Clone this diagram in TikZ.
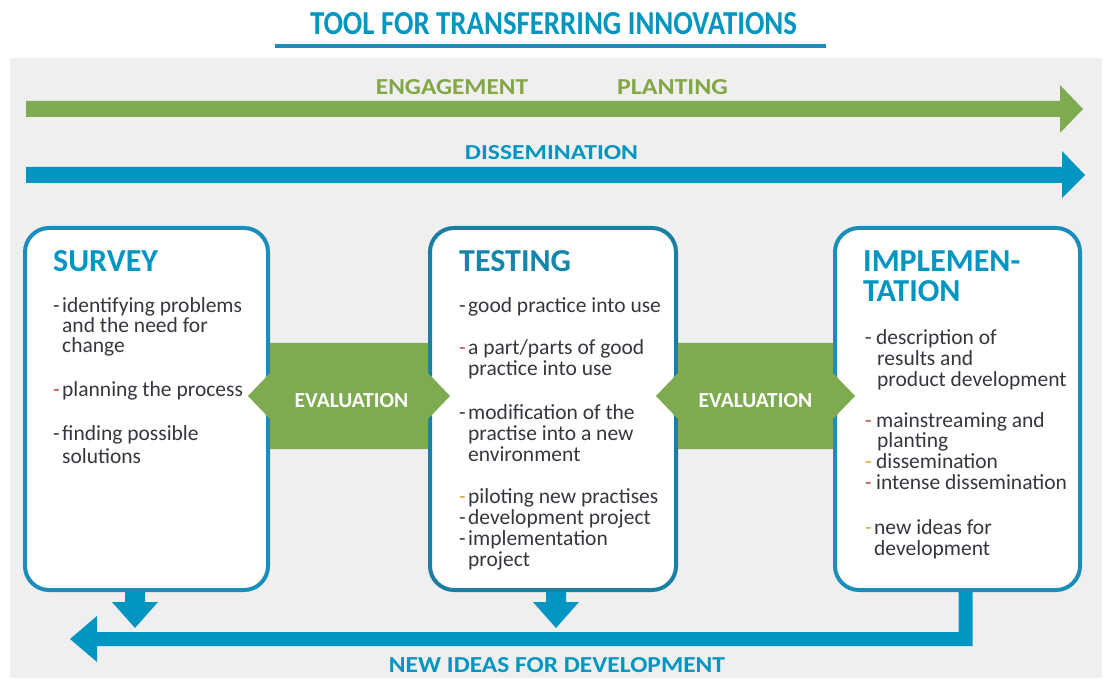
\documentclass[tikz,border=0pt]{standalone}
\usepackage{fontspec}
\setmainfont{Carlito}
\usetikzlibrary{calc}

\definecolor{tblue}{HTML}{0096C1}
\definecolor{bordblue}{HTML}{1A8DBA}
\definecolor{darkbord}{HTML}{1B7FA3}
\definecolor{tgreen}{HTML}{7EAA50}
\definecolor{lgreen}{HTML}{84A746}
\definecolor{panel}{HTML}{EFEFEF}
\definecolor{bodyc}{HTML}{36363F}
\definecolor{dred}{HTML}{C94A3C}
\definecolor{dorange}{HTML}{E3A03A}

% double-pointed evaluation band between two stage boxes
\newcommand{\evalband}[2]{%
  \fill[tgreen] (#1.east |- bt) -- (#2.west |- bt) -- (#2.west |- bu)
    -- ($(#2.west |- bm)+(22,0)$) -- (#2.west |- bl) -- (#2.west |- bb)
    -- (#1.east |- bb) -- (#1.east |- bl) -- ($(#1.east |- bm)+(-22,0)$)
    -- (#1.east |- bu) -- cycle;}

% short block arrow pointing down from a box bottom
\newcommand{\droparrow}[1]{%
  \fill[tblue] (#1) ++(-10,0) -- ++(0,12) -- ++(-13,0) -- ++(23,26)
    -- ++(23,-26) -- ++(-13,0) -- ++(0,-12) -- cycle;}

\begin{document}
\begin{tikzpicture}[x=1pt,y=-1pt,
  stage/.style={draw=bordblue, line width=4pt, fill=white, rounded corners=24pt,
    minimum height=362pt, inner sep=0pt},
  headtxt/.style={anchor=base west, inner sep=0pt, text=tblue,
    font=\fontsize{32}{32}\selectfont\bfseries},
  txt/.style={anchor=base west, inner sep=0pt, text=bodyc,
    font=\fontsize{21.5}{21}\selectfont},
  bul/.style={anchor=base west, inner sep=0pt,
    font=\fontsize{21.5}{21}\selectfont},
  cond/.style={anchor=base, inner sep=0pt, font=\bfseries},
  evaltxt/.style={anchor=base, inner sep=0pt, text=white,
    font=\fontsize{21.5}{21}\selectfont\bfseries}
]
\useasboundingbox (0,0) rectangle (1111,684);

% panel
\fill[panel] (10,58) rectangle (1102,678);

% heading
\node[cond, text=tblue] (title) at (553.5,35)
  {\resizebox{487pt}{22pt}{TOOL FOR TRANSFERRING INNOVATIONS}};
\draw[bordblue, line width=4pt] (275,46.5) -- (826,46.5);

% long process arrows
\fill[tgreen] (26,101) -- (1060,101) -- (1060,85) -- (1083,109) -- (1060,133)
  -- (1060,117) -- (26,117) -- cycle;
\fill[tblue] (26,167) -- (1062,167) -- (1062,151) -- (1085,175) -- (1062,198)
  -- (1062,183) -- (26,183) -- cycle;
\node[cond, text=lgreen] (engage) at (452,95)
  {\resizebox{152pt}{15pt}{ENGAGEMENT}};
\node[cond, text=lgreen] (plant) at (672.5,95)
  {\resizebox{111pt}{15pt}{PLANTING}};
\node[cond, text=tblue] (dissem) at (551.5,160)
  {\resizebox{173pt}{14pt}{DISSEMINATION}};

% reference levels of the evaluation bands
\coordinate (bt) at (0,343);
\coordinate (bu) at (0,373);
\coordinate (bm) at (0,396);
\coordinate (bl) at (0,419);
\coordinate (bb) at (0,449);

% feedback arrows below the boxes
\coordinate (d1) at (135,590);
\coordinate (d2) at (556,590);
\droparrow{d1}
\droparrow{d2}
\coordinate (ret) at (965.5,590);
\coordinate (retend) at (70,639);
\fill[tblue] ($(ret)+(7,0)$) -- ($(ret)+(7,56)$) -- (97,646) -- (97,662)
  -- (retend) -- (97,616) -- (97,632) -- ($(ret)+(-7,42)$)
  -- ($(ret)+(-7,0)$) -- cycle;
\node[cond, text=tblue] (newideas) at (557,672)
  {\resizebox{336pt}{15pt}{NEW IDEAS FOR DEVELOPMENT}};

% stage boxes
\node[stage, minimum width=243pt] (survey) at (146.5,409) {};
\node[stage, draw=darkbord, minimum width=246pt] (testing) at (553,409) {};
\node[stage, minimum width=245pt] (implem) at (957.5,409) {};

% evaluation bands
\evalband{survey}{testing}
\evalband{testing}{implem}
\node[evaltxt] (eval1) at (351.5,407) {EVALUATION};
\node[evaltxt] (eval2) at (755.5,407) {EVALUATION};

% SURVEY
\node[headtxt] (h1) at (53,272) {SURVEY};
\node[bul, text=bodyc] (s1d) at (53,313) {-};
\node[txt] (s1a) at (62,313) {identifying problems};
\node[txt] (s1b) at (62,333) {and the need for};
\node[txt] (s1c) at (62,353) {change};
\node[bul, text=dred] (s2d) at (53,397) {-};
\node[txt] (s2a) at (62,397) {planning the process};
\node[bul, text=bodyc] (s3d) at (53,440) {-};
\node[txt] (s3a) at (62,440) {finding possible};
\node[txt] (s3b) at (62,463) {solutions};

% TESTING
\node[headtxt, text=darkbord!70!tblue] (h2) at (459,272) {TESTING};
\node[bul, text=bodyc] (t1d) at (459,313) {-};
\node[txt] (t1a) at (468,313) {good practice into use};
\node[bul, text=dred] (t2d) at (459,355) {-};
\node[txt] (t2a) at (468,355) {a part/parts of good};
\node[txt] (t2b) at (468,376) {practice into use};
\node[bul, text=bodyc] (t3d) at (459,419) {-};
\node[txt] (t3a) at (468,419) {modification of the};
\node[txt] (t3b) at (468,440) {practise into a new};
\node[txt] (t3c) at (468,461) {environment};
\node[bul, text=dorange] (t4d) at (459,503) {-};
\node[txt] (t4a) at (468,503) {piloting new practises};
\node[bul, text=bodyc] (t5d) at (459,524) {-};
\node[txt] (t5a) at (468,524) {development project};
\node[bul, text=bodyc] (t6d) at (459,545) {-};
\node[txt] (t6a) at (468,545) {implementation};
\node[txt] (t6b) at (468,566) {project};

% IMPLEMENTATION
\node[headtxt] (h3a) at (863,272) {IMPLEMEN-};
\node[headtxt] (h3b) at (863,302) {TATION};
\node[bul, text=bodyc] (i1d) at (865,345) {-};
\node[txt] (i1a) at (876,345) {description of};
\node[txt] (i1b) at (877,366) {results and};
\node[txt] (i1c) at (877,387) {product development};
\node[bul, text=dred] (i2d) at (865,427) {-};
\node[txt] (i2a) at (876,427) {mainstreaming and};
\node[txt] (i2b) at (877,447) {planting};
\node[bul, text=dorange] (i3d) at (865,468) {-};
\node[txt] (i3a) at (876,468) {dissemination};
\node[bul, text=dred] (i4d) at (865,489) {-};
\node[txt] (i4a) at (876,489) {intense dissemination};
\node[bul, text=dorange] (i5d) at (865,534) {-};
\node[txt] (i5a) at (874,534) {new ideas for};
\node[txt] (i5b) at (874,555) {development};
\end{tikzpicture}
\end{document}
